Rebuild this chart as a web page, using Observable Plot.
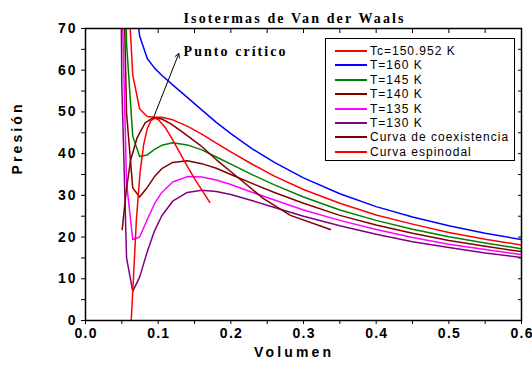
<!DOCTYPE html>
<html><head><meta charset="utf-8">
<script src="https://cdn.jsdelivr.net/npm/d3@7"></script>
<script src="https://cdn.jsdelivr.net/npm/@observablehq/plot@0.6"></script>
<style>
body{margin:0;background:#fff;}
#wrap{position:relative;width:532px;height:369px;overflow:hidden;}
#legend{position:absolute;left:325px;top:38px;width:190px;height:123px;border:1px solid #000;background:#fff;box-sizing:border-box;font-family:"Liberation Sans",Arial,sans-serif;font-size:12px;letter-spacing:1px;color:#000;}
.row{position:absolute;left:9px;height:14px;display:flex;align-items:center;white-space:nowrap;}
.sw{width:32px;height:0;border-top:2px solid;margin-right:3px;}
</style></head><body><div id="wrap"></div>
<script>
// Volume grid (x) and pressures (y)
const volumes = [0.045,0.05,0.0565,0.065,0.0745,0.085,0.095,0.105,0.12,0.14,0.16,0.18,0.2,0.23,0.26,0.3,0.35,0.4,0.45,0.5,0.55,0.6];
const pTc  = [287.8,151.6,86.2,58.9,50.7,48.9,48.7,48.7,48.1,46.6,44.7,42.5,40.4,37.4,34.6,31.4,28.1,25.3,23.1,21.1,19.5,18.1];
const p160 = [344.5,192.6,116.4,81.4,68.2,62.8,60.5,58.8,56.5,53.5,50.5,47.5,44.8,41.1,37.9,34.2,30.4,27.3,24.8,22.7,20.9,19.4];
const p145 = [250.6,124.6,66.4,44.2,39.3,39.7,41.0,42.0,42.6,42.1,40.9,39.2,37.5,34.9,32.5,29.6,26.5,24.0,21.9,20.1,18.6,17.2];
const p140 = [219.2,101.9,49.7,31.8,29.6,31.9,34.5,36.4,37.9,38.3,37.6,36.5,35.0,32.8,30.7,28.1,25.2,22.9,20.9,19.2,17.8,16.5];
const p135 = [187.9,79.3,33.0,19.4,20.0,24.2,28.0,30.7,33.2,34.5,34.4,33.7,32.6,30.7,28.9,26.5,24.0,21.8,19.9,18.3,17.0,15.8];
const p130 = [156.6,56.6,15.0,7.0,10.4,16.5,21.5,25.1,28.6,30.7,31.2,30.9,30.2,28.7,27.1,25.0,22.7,20.7,18.9,17.5,16.2,15.1];

// Coexistence curve
const coexV = [0.0505,0.056,0.062,0.071,0.082,0.093,0.105,0.117,0.135,0.158,0.181,0.209,0.245,0.282,0.337];
const coexP = [21.8,31.0,38.4,43.8,47.4,48.6,48.3,47.2,45.0,42.0,38.4,34.4,29.2,25.2,21.8];

// Spinodal curve
const spinV = [0.0629,0.066,0.07,0.075,0.08,0.085,0.09,0.0957,0.1,0.11,0.12,0.13,0.14,0.15,0.16,0.171];
const spinP = [0,10.2,24.1,35.4,42.1,46.0,47.9,48.5,48.2,46.2,43.3,40.1,37.0,34.0,31.3,28.3];

// Labels & colors
const seriesLabels = ["Tc=150.952 K","T=160 K","T=145 K","T=140 K","T=135 K","T=130 K","Curva de coexistencia","Curva espinodal"];
const seriesColors = ["#ff0000","#0000ff","#008000","#800000","#ff00ff","#800080","#800000","#ff0000"];
const isoSeries = [pTc,p160,p145,p140,p135,p130];

const xTicks = [0,0.05,0.1,0.15,0.2,0.25,0.3,0.35,0.4,0.45,0.5,0.55,0.6];
const xLabeled = [0,0.1,0.2,0.3,0.4,0.5,0.6];
const yTicks = [0,5,10,15,20,25,30,35,40,45,50,55,60,65,70];
const yLabeled = [0,10,20,30,40,50,60,70];

const titleText = "Isotermas de Van der Waals";
const xLabel = "Volumen";
const yLabel = "Presión";
const annot = [{V:0.1349, P:64.4, label:"Punto crítico"}];
const arrowData = [{x1:0.094, y1:48.8, x2:0.1284, y2:64.0}];

const rows = (vs, ps) => vs.map((v,i)=>({V:v, P:ps[i]}));
const isoMarks = isoSeries.map((ps,i)=>Plot.line(rows(volumes, ps), {x:"V", y:"P", stroke:seriesColors[i], strokeWidth:1.5, clip:true}));

const fmtX = d => xLabeled.some(t=>Math.abs(t-d)<1e-9) ? d.toFixed(1) : "";
const fmtY = d => yLabeled.includes(d) ? String(d) : "";

const chart = Plot.plot({
  width:532, height:369,
  marginLeft:85, marginRight:11, marginTop:28, marginBottom:49,
  style:{background:"#fff", fontFamily:"'Liberation Sans', Arial, sans-serif", overflow:"visible"},
  x:{domain:[0,0.6]},
  y:{domain:[0,70]},
  marks:[
    Plot.axisX({ticks:xTicks, tickSize:4, tickPadding:4, tickFormat:fmtX, fontSize:14, fontWeight:"bold", label:null, color:"#000"}),
    Plot.axisX({anchor:"top", ticks:xTicks, tickSize:-4, tickFormat:()=>"", label:null}),
    Plot.axisY({ticks:yTicks, tickSize:4, tickPadding:6, tickFormat:fmtY, fontSize:14, fontWeight:"bold", label:null}),
    Plot.axisY({anchor:"right", ticks:yTicks, tickSize:-4, tickFormat:()=>"", label:null}),
    ...isoMarks,
    Plot.line(rows(coexV, coexP), {x:"V", y:"P", stroke:seriesColors[6], strokeWidth:1.5, clip:true}),
    Plot.line(rows(spinV, spinP), {x:"V", y:"P", stroke:seriesColors[7], strokeWidth:1.5, clip:true}),
    Plot.frame({stroke:"#000", strokeWidth:1.5}),
    Plot.arrow(arrowData, {x1:"x1", y1:"y1", x2:"x2", y2:"y2", stroke:"#000", strokeWidth:1, headLength:7}),
    Plot.text(annot, {x:"V", y:"P", text:"label", textAnchor:"start", fontFamily:"'Liberation Serif', 'Times New Roman', serif", fontWeight:"bold", fontSize:14, fill:"#000"}),
    Plot.text([titleText], {text:d=>d, frameAnchor:"top", dx:-10, dy:-15, fontFamily:"'Liberation Serif', 'Times New Roman', serif", fontWeight:"bold", fontSize:14, fill:"#000"}),
    Plot.text([xLabel], {text:d=>d, frameAnchor:"bottom", dx:-11, dy:36, fontWeight:"bold", fontSize:14, fill:"#000"}),
    Plot.text([yLabel], {text:d=>d, frameAnchor:"left", dx:-68, rotate:-90, fontWeight:"bold", fontSize:14, fill:"#000"})
  ]
});
const wrap = document.getElementById("wrap");
wrap.appendChild(chart);

// widths of spaced-out texts
const widths = {"Isotermas de Van der Waals":220, "Punto crítico":102, "Volumen":77, "Presión":70};
chart.querySelectorAll("text").forEach(t=>{
  const s = t.textContent;
  if (widths[s]) {
    t.setAttribute("textLength", widths[s]);
    t.setAttribute("lengthAdjust", "spacing");
  } else if (/^[0-9.]+$/.test(s) && s.length > 1) {
    t.setAttribute("textLength", s.length === 3 ? 22 : 17.5);
    t.setAttribute("lengthAdjust", "spacing");
  }
});

const legend = document.createElement("div");
legend.id = "legend";
seriesLabels.forEach((lab,i)=>{
  const r = document.createElement("div");
  r.className = "row";
  r.style.top = (5 + i*14.4) + "px";
  const sw = document.createElement("span");
  sw.className = "sw";
  sw.style.borderTopColor = seriesColors[i];
  const t = document.createElement("span");
  t.textContent = lab;
  r.appendChild(sw); r.appendChild(t);
  legend.appendChild(r);
});
wrap.appendChild(legend);
</script>
</body></html>
